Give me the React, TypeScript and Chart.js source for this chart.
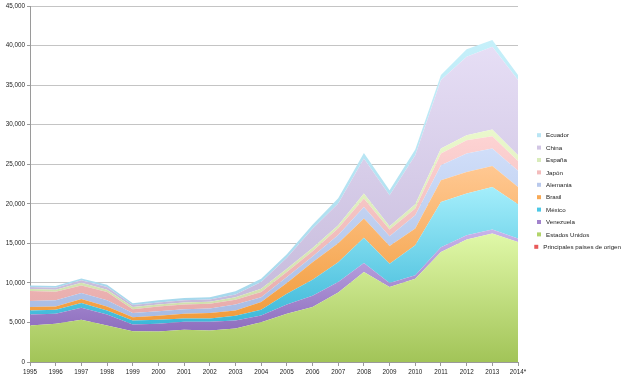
import React, { useEffect, useRef } from "react";
import { Chart, registerables } from "chart.js";

Chart.register(...registerables);

const years = ["1995", "1996", "1997", "1998", "1999", "2000", "2001", "2002", "2003", "2004", "2005", "2006", "2007", "2008", "2009", "2010", "2011", "2012", "2013", "2014*"];

const principales = [0, 0, 0, 0, 0, 0, 0, 0, 0, 0, 0, 0, 0, 0, 0, 0, 0, 0, 0, 0];
const estadosUnidos = [4620, 4830, 5340, 4620, 3900, 3860, 4080, 3990, 4240, 5040, 6100, 6940, 8800, 11370, 9470, 10530, 13900, 15470, 16230, 15170];
const venezuela = [1390, 1270, 1520, 1390, 850, 970, 1010, 1100, 1010, 850, 1180, 1440, 1300, 1140, 510, 420, 600, 540, 510, 430];
const mexico = [510, 500, 590, 510, 500, 510, 420, 420, 600, 710, 1350, 2020, 2500, 3210, 2450, 3800, 5730, 5280, 5390, 4340];
const brasil = [420, 430, 500, 510, 420, 510, 590, 670, 670, 970, 1350, 2200, 2400, 2410, 2230, 2110, 2750, 2740, 2660, 2190];
const alemania = [760, 760, 760, 760, 510, 580, 580, 590, 760, 630, 760, 730, 1050, 1470, 1230, 1690, 1900, 2330, 2200, 2030];
const japon = [1260, 1090, 970, 1050, 500, 600, 600, 600, 590, 640, 630, 670, 850, 1060, 850, 840, 1480, 1680, 1560, 1260];
const espana = [260, 260, 350, 300, 260, 250, 250, 250, 330, 430, 430, 400, 400, 630, 410, 550, 630, 630, 850, 720];
const china = [250, 250, 290, 330, 250, 250, 260, 290, 340, 830, 1390, 2450, 2750, 4430, 3930, 6200, 8650, 9920, 10450, 9500];
const ecuador = [210, 210, 250, 300, 250, 260, 290, 290, 390, 430, 420, 500, 650, 710, 630, 720, 630, 930, 850, 630];

const yTicksMax = 45000;
const yTicksStep = 5000;

// series, bottom of the stack first
const seriesNames = ["Principales países de origen", "Estados Unidos", "Venezuela", "México", "Brasil", "Alemania", "Japón", "España", "China", "Ecuador"];
const seriesValues = [principales, estadosUnidos, venezuela, mexico, brasil, alemania, japon, espana, china, ecuador];
const legendColors = ["#e85a5a", "#b2d46a", "#a283cc", "#4cc8e6", "#f8a955", "#b9c9ec", "#f3bcbc", "#d9ecbb", "#d2c6e4", "#b9e5f4"];
const gradTop = ["#f08080", "#e0f8a8", "#c8b4ea", "#a4eefb", "#ffc892", "#d0def9", "#fdd3d3", "#eaf8cc", "#e6def5", "#c6f0fa"];
const gradBottom = ["#d84040", "#a2c458", "#8e6ebe", "#3cb8d8", "#f29c3c", "#a8bce4", "#e8acac", "#cfe0ad", "#c6badb", "#a6d8ec"];

const FONT = "'Liberation Sans', Arial, sans-serif";

function cumulative(upTo: number): number[] {
  return years.map((_, j) => {
    let s = 0;
    for (let k = 0; k <= upTo; k++) s += seriesValues[k][j];
    return s;
  });
}

const legendPlugin = {
  id: "sideLegend",
  afterDraw(chart: any) {
    const ctx = chart.ctx;
    const n = seriesNames.length;
    const rowH = 12.4;
    const centerY = 191;
    const startY = centerY - ((n - 1) * rowH) / 2;
    ctx.save();
    ctx.font = `6.2px ${FONT}`;
    ctx.textBaseline = "middle";
    ctx.textAlign = "left";
    for (let r = 0; r < n; r++) {
      const i = n - 1 - r;
      const y = startY + r * rowH;
      const tw = ctx.measureText(seriesNames[i]).width;
      const itemW = 4 + 7 + tw;
      const x = Math.min(chart.chartArea.right + 19, chart.width - 2 - itemW);
      ctx.fillStyle = legendColors[i];
      ctx.fillRect(x, y - 2, 4, 4);
      ctx.fillStyle = "#222";
      ctx.fillText(seriesNames[i], x + 9, y + 0.5);
    }
    ctx.restore();
  },
};

export default function App() {
  const canvasRef = useRef<HTMLCanvasElement | null>(null);

  useEffect(() => {
    document.body.style.margin = "0";
    const canvas = canvasRef.current;
    if (!canvas) return;

    const datasets = seriesNames.map((name, i) => {
      const tops = cumulative(i);
      const bottoms = i === 0 ? years.map(() => 0) : cumulative(i - 1);
      const maxTop = Math.max(...tops);
      const minBottom = Math.min(...bottoms);
      return {
        label: name,
        data: seriesValues[i],
        fill: i === 0 ? "origin" : "-1",
        borderWidth: 0,
        borderColor: "rgba(0,0,0,0)",
        pointRadius: 0,
        pointHoverRadius: 0,
        tension: 0,
        backgroundColor: (context: any) => {
          const chart = context.chart;
          const ys = chart.scales && chart.scales.y;
          if (!chart.chartArea || !ys) return legendColors[i];
          const t = ys.getPixelForValue(maxTop);
          let b = ys.getPixelForValue(minBottom);
          if (!(b > t + 1)) b = t + 1;
          const g = chart.ctx.createLinearGradient(0, t, 0, b);
          g.addColorStop(0, gradTop[i]);
          g.addColorStop(1, gradBottom[i]);
          return g;
        },
      };
    });

    const chart = new Chart(canvas, {
      type: "line",
      data: { labels: years, datasets: datasets as any },
      options: {
        animation: false,
        responsive: false,
        devicePixelRatio: 1,
        layout: { padding: { left: 0, right: 107, top: 6, bottom: 0 } },
        plugins: {
          legend: { display: false },
          tooltip: { enabled: false },
        },
        elements: { line: { borderWidth: 0 } },
        scales: {
          x: {
            offset: false,
            grid: { display: true, drawOnChartArea: false, drawTicks: true, tickLength: 4, color: "#9a9a9a" },
            border: { display: true, color: "#9a9a9a" },
            ticks: { font: { family: FONT, size: 6.3 }, color: "#222", autoSkip: false, maxRotation: 0, padding: 2 },
            afterFit: (scale: any) => { scale.height = 17; },
          },
          y: {
            stacked: true,
            min: 0,
            max: yTicksMax,
            grid: { color: "#c4c4c4", lineWidth: 1, tickLength: 3, tickColor: "#9a9a9a" },
            border: { display: true, color: "#9a9a9a" },
            ticks: { stepSize: yTicksStep, font: { family: FONT, size: 6.3 }, color: "#222", padding: 2 },
            afterFit: (scale: any) => { scale.width = 30; },
          },
        },
      },
      plugins: [legendPlugin],
    });

    return () => chart.destroy();
  }, []);

  return (
    <div style={{ position: "fixed", left: 0, top: 0, width: 625, height: 379, background: "#fff" }}>
      <canvas ref={canvasRef} width={625} height={379} style={{ display: "block" }} />
    </div>
  );
}
